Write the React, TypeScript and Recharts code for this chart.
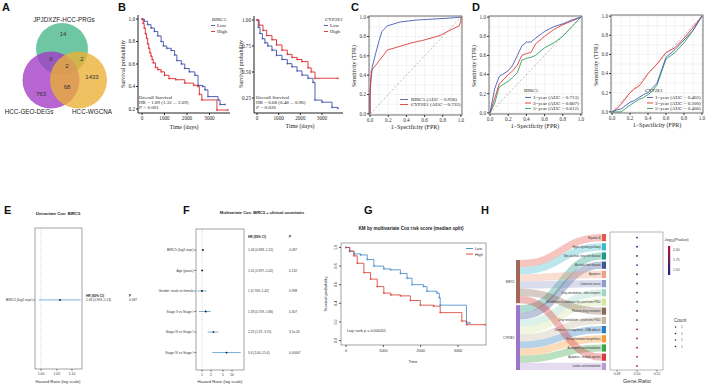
import React from 'react';
import {
  LineChart, Line, XAxis, YAxis, CartesianGrid, ReferenceLine,
  ScatterChart, Scatter, ErrorBar, Sankey,
} from 'recharts';

const SERIF = '"Liberation Serif","Times New Roman",serif';
const SANS = '"Liberation Sans",Arial,sans-serif';

// ---------------- A: Venn ----------------
const vennSetNames = ['JPJDXZF-HCC-PRGs', 'HCC-GEO-DEGs', 'HCC-WGCNA'];
const vennRegionCounts = [14, 0, 2, 2, 1433, 68, 763];

// ---------------- B: KM curves ----------------
const kmBirc5LowTime = [0, 100, 250, 400, 550, 700, 850, 950, 1100, 1300, 1450, 1550, 1750, 1900, 2100, 2350, 2490, 2700, 2800, 2930, 3380, 3470, 3690];
const kmBirc5LowSurv = [1, 0.98, 0.95, 0.92, 0.89, 0.85, 0.8, 0.76, 0.74, 0.72, 0.68, 0.63, 0.6, 0.56, 0.53, 0.5, 0.41, 0.4, 0.37, 0.31, 0.28, 0.24, 0.24];
const kmBirc5HighTime = [0, 50, 100, 150, 200, 250, 300, 350, 400, 450, 500, 600, 700, 850, 1000, 1200, 1500, 1900, 2300, 2480, 2550, 2660, 3330, 3820];
const kmBirc5HighSurv = [1, 0.96, 0.92, 0.87, 0.83, 0.78, 0.74, 0.7, 0.67, 0.64, 0.61, 0.57, 0.55, 0.53, 0.5, 0.47, 0.46, 0.43, 0.41, 0.4, 0.33, 0.28, 0.19, 0.19];
const kmCypLowTime = [0, 60, 138, 250, 369, 500, 692, 900, 1154, 1400, 1615, 1850, 2077, 2354, 2585, 2677, 3000, 3461, 3738];
const kmCypLowSurv = [1, 0.93, 0.87, 0.82, 0.78, 0.75, 0.71, 0.66, 0.62, 0.58, 0.55, 0.51, 0.47, 0.44, 0.4, 0.23, 0.21, 0.16, 0.15];
const kmCypHighTime = [0, 100, 277, 450, 692, 900, 1154, 1400, 1615, 1850, 2077, 2354, 2500, 2677, 3738];
const kmCypHighSurv = [1, 0.95, 0.9, 0.85, 0.81, 0.76, 0.71, 0.67, 0.64, 0.62, 0.6, 0.54, 0.5, 0.44, 0.44];

// ---------------- C: ROC ----------------
const rocBirc5Fpr = [0, 0, 0.007, 0.025, 0.06, 0.1, 0.13, 0.19, 0.33, 0.51, 0.69, 0.87, 1];
const rocBirc5Tpr = [0, 0.2, 0.32, 0.49, 0.62, 0.76, 0.85, 0.91, 0.95, 0.97, 0.98, 0.99, 1];
const rocCypFpr = [0, 0, 0.007, 0.014, 0.06, 0.1, 0.15, 0.19, 0.3, 0.44, 0.58, 0.77, 0.87, 0.98, 1, 1];
const rocCypTpr = [0, 0.2, 0.35, 0.45, 0.5, 0.55, 0.61, 0.66, 0.69, 0.73, 0.76, 0.81, 0.86, 0.91, 0.96, 1];

// ---------------- D: time-dependent ROC ----------------
const tdFpr = [0, 0.05, 0.1, 0.2, 0.25, 0.3, 0.35, 0.4, 0.45, 0.5, 0.6, 0.7, 0.8, 0.9, 1];
const tdBirc5Y1 = [0, 0.25, 0.38, 0.44, 0.5, 0.6, 0.7, 0.74, 0.74, 0.78, 0.85, 0.9, 0.93, 0.97, 1];
const tdBirc5Y3 = [0, 0.15, 0.3, 0.4, 0.44, 0.5, 0.6, 0.62, 0.63, 0.72, 0.8, 0.87, 0.92, 0.96, 1];
const tdBirc5Y5 = [0, 0.1, 0.27, 0.33, 0.37, 0.42, 0.55, 0.57, 0.58, 0.6, 0.68, 0.73, 0.8, 0.9, 1];
const tdCypY1 = [0, 0.02, 0.03, 0.1, 0.12, 0.15, 0.18, 0.2, 0.25, 0.3, 0.57, 0.65, 0.75, 0.85, 1];
const tdCypY3 = [0, 0.03, 0.08, 0.2, 0.24, 0.27, 0.33, 0.4, 0.45, 0.5, 0.62, 0.67, 0.77, 0.88, 1];
const tdCypY5 = [0, 0, 0, 0.07, 0.1, 0.13, 0.15, 0.18, 0.22, 0.28, 0.55, 0.62, 0.72, 0.85, 1];

// ---------------- E/F: Cox forest ----------------
const uniNames = ['BIRC5 (log2 expr)'];
const uniHR = [1.06];
const uniLo = [0.993];
const uniHi = [1.13];
const uniHRText = ['1.06 (0.993\u20131.13)'];
const uniP = ['0.087'];

const multiNames = ['BIRC5 (log2 expr)', 'Age (years)', 'Gender: male vs female', 'Stage II vs Stage I', 'Stage III vs Stage I', 'Stage IV vs Stage I'];
const multiHR = [1.07, 1.01, 1.0, 1.33, 2.4, 6.6];
const multiLo = [0.983, 0.997, 0.709, 0.79, 1.55, 2.2];
const multiHi = [1.15, 1.02, 1.42, 1.95, 3.5, 19.6];
const multiHRText = ['1.06 (0.983\u20131.15)', '1.01 (0.997\u20131.02)', '1 (0.709\u20131.42)', '1.33 (0.759\u20131.86)', '2.25 (1.37\u20133.70)', '5.6 (2.00\u201315.4)'];
const multiP = ['0.087', '0.132', '0.998', '0.307', '3.1e-05', '0.00067'];

// ---------------- G: KM by risk score ----------------
const kmRiskLowTime = [0, 100, 213, 391, 569, 747, 1013, 1191, 1458, 1636, 1769, 2080, 2169, 2436, 2500, 2524, 3227, 3320];
const kmRiskLowSurv = [1, 0.96, 0.93, 0.92, 0.87, 0.8, 0.77, 0.76, 0.72, 0.67, 0.6, 0.58, 0.53, 0.51, 0.46, 0.38, 0.19, 0.19];
const kmRiskHighTime = [0, 100, 213, 302, 480, 658, 836, 1013, 1200, 1458, 1725, 1991, 2347, 2524, 3102, 3236, 3725];
const kmRiskHighSurv = [1, 0.96, 0.91, 0.83, 0.73, 0.66, 0.58, 0.51, 0.49, 0.48, 0.43, 0.38, 0.37, 0.3, 0.21, 0.17, 0.17];

// ---------------- H: KEGG Sankey + dot plot ----------------
const genes = ['BIRC5', 'CYP2E1'];
const pathways = [
  'Hepatitis B', 'Hippo signaling pathway', 'Non-alcoholic fatty liver disease', 'Alcoholic liver disease',
  'Apoptosis', 'Colorectal cancer', 'Drug metabolism - other enzymes', 'Metabolism of xenobiotics by cytochrome P450',
  'Platinum drug resistance', 'Drug metabolism - cytochrome P450', 'Chemical carcinogenesis - DNA adducts',
  'Steroid hormone biosynthesis', 'Arachidonic acid metabolism', 'Apoptosis - multiple species', 'Linoleic acid metabolism',
];
const pathwayGene = [0, 0, 1, 1, 0, 0, 1, 1, 0, 1, 1, 1, 1, 0, 1];
const pathwayGeneRatio = [0.5, 0.5, 0.5, 0.5, 0.5, 0.5, 0.5, 0.5, 0.5, 0.5, 0.5, 0.5, 0.5, 0.5, 0.5];
const pathwayLogP = [1.55, 1.5, 1.55, 1.55, 1.6, 1.6, 1.65, 1.7, 1.75, 1.8, 1.85, 1.9, 1.95, 2.0, 2.05];
const pathwayCount = [1, 1, 1, 1, 1, 1, 1, 1, 1, 1, 1, 1, 1, 1, 1];

// ---------------- styling / layout ----------------
const geneColors = ['#a0675a', '#9c76c8'];
const pathwayColors = ['#e5584a', '#3cb9cc', '#1d9c84', '#3f5892', '#f4a07e', '#8e9ccb', '#9fd6c6', '#d4e6a0',
  '#8a6a55', '#c5b6a1', '#2a7dbd', '#f59a35', '#3ca54b', '#d83a3b', '#b79bd6'];

const R_B1 = { x0: 138, y0: 15, x1: 230, y1: 113 };
const R_B2 = { x0: 254, y0: 16, x1: 343, y1: 113 };
const R_C = { x0: 369, y0: 16, x1: 462, y1: 115 };
const R_D1 = { x0: 489, y0: 16, x1: 582, y1: 114 };
const R_D2 = { x0: 611, y0: 15, x1: 703, y1: 113 };
const R_E = { x0: 35, y0: 228, x1: 82, y1: 369 };
const R_F = { x0: 196, y0: 229, x1: 244, y1: 370 };
const R_G = { x0: 341, y0: 243, x1: 486, y1: 345 };
const R_H = { x0: 610, y0: 232, x1: 663, y1: 370 };
const SANKEY = { x: 516, y: 234, w: 90, h: 136 };

const zipTS = (t: number[], s: number[]) => t.map((v, i) => ({ t: v, s: s[i] }));
const zipXY = (x: number[], y: number[]) => x.map((v, i) => ({ x: v, y: y[i] }));

const lerp = (a: number, b: number, f: number) => Math.round(a + (b - a) * f);
const pColor = (v: number) => {
  const f = Math.max(0, Math.min(1, (v - 1.45) / 0.6));
  return `rgb(${lerp(35, 178, f)},${lerp(30, 24, f)},${lerp(140, 43, f)})`;
};

const plusDot = (color: string) => (p: any) => {
  if (p.cx == null || p.cy == null) return <g key={p.key} />;
  return (
    <path key={p.key} d={`M${p.cx - 1.1},${p.cy}h2.2M${p.cx},${p.cy - 1.1}v2.2`} stroke={color} strokeWidth={0.5} fill="none" />
  );
};

function box(r: any, L: number, T: number, R: number, B: number) {
  return {
    style: { position: 'absolute' as const, left: r.x0 - L, top: r.y0 - T },
    width: r.x1 - r.x0 + L + R,
    height: r.y1 - r.y0 + T + B,
    margin: { top: T, right: R, left: 0, bottom: 0 },
  };
}

function KMPlot({ r, series, xDomain, yDomain, xTicks, yTicks, yFmt }: any) {
  const b = box(r, 22, 4, 8, 14);
  const tick = { fontSize: 5.2, fontFamily: SERIF, fill: '#222' };
  return (
    <div style={b.style}>
      <LineChart width={b.width} height={b.height} margin={b.margin}>
        <XAxis type="number" dataKey="t" domain={xDomain} ticks={xTicks} allowDataOverflow height={14}
          tickSize={2} tickMargin={1} tick={tick} stroke="#222" interval={0} />
        <YAxis type="number" domain={yDomain} ticks={yTicks} allowDataOverflow width={22}
          tickSize={2} tickMargin={1} tick={tick} tickFormatter={yFmt} stroke="#222" interval={0} />
        {series.map((s: any) => (
          <Line key={s.name} data={s.data} dataKey="s" type="stepAfter" stroke={s.color} strokeWidth={0.9}
            dot={plusDot(s.color)} activeDot={false} isAnimationActive={false} />
        ))}
      </LineChart>
    </div>
  );
}

const grid01 = [0, 0.1, 0.2, 0.3, 0.4, 0.5, 0.6, 0.7, 0.8, 0.9, 1];
const ticks02 = [0, 0.2, 0.4, 0.6, 0.8, 1];

function ROCPlot({ r, series }: any) {
  const b = box(r, 16, 4, 6, 12);
  const tick = { fontSize: 5.2, fontFamily: SERIF, fill: '#333' };
  return (
    <div style={b.style}>
      <LineChart width={b.width} height={b.height} margin={b.margin}>
        <CartesianGrid stroke="#e6e6e6" strokeWidth={0.5} horizontalValues={grid01} verticalValues={grid01} />
        <XAxis type="number" dataKey="x" domain={[-0.012, 1.012]} ticks={ticks02} allowDataOverflow height={12}
          tickSize={2} tickMargin={1} tick={tick} axisLine={false} stroke="#333" interval={0}
          tickFormatter={(v: number) => v.toFixed(1)} />
        <YAxis type="number" domain={[-0.012, 1.012]} ticks={ticks02} allowDataOverflow width={16}
          tickSize={2} tickMargin={1} tick={tick} axisLine={false} stroke="#333" interval={0}
          tickFormatter={(v: number) => v.toFixed(1)} />
        <ReferenceLine segment={[{ x: 0, y: 0 }, { x: 1, y: 1 }]} stroke="#888" strokeDasharray="2 2" strokeWidth={0.6} />
        {series.map((s: any) => (
          <Line key={s.name} data={s.data} dataKey="y" type="linear" stroke={s.color} strokeWidth={0.9}
            dot={false} activeDot={false} isAnimationActive={false} />
        ))}
      </LineChart>
    </div>
  );
}

const makeRowTick = (rows: any[]) => (p: any) => {
  const row = rows[p.payload.value];
  return (
    <text x={p.x} y={p.y} dy={1.2} textAnchor="end" fontSize={3.3} fontFamily={SANS} fill="#333">
      {row ? row.name : ''}
    </text>
  );
};

function Forest({ r, rows, xDomain, xTicks, xFmt, yDomain, L, textDx1, textDx2, textW }: any) {
  const b = box(r, L, 0, textW, 12);
  const tick = { fontSize: 3.4, fontFamily: SANS, fill: '#333' };
  const plotRight = L + (r.x1 - r.x0);
  const RowTick = makeRowTick(rows);
  return (
    <div style={b.style}>
      <ScatterChart width={b.width} height={b.height} margin={b.margin}>
        <XAxis type="number" dataKey="hr" scale="log" domain={xDomain} ticks={xTicks} height={12}
          tickSize={1.5} tickMargin={2} tick={tick} axisLine={false} stroke="#555" interval={0}
          tickFormatter={xFmt} />
        <YAxis type="number" dataKey="row" domain={yDomain} reversed ticks={rows.map((d: any) => d.row)} width={L}
          tickSize={1.5} tickMargin={1} tick={<RowTick />} axisLine={false} stroke="#555" interval={0} />
        <ReferenceLine x={1} stroke="#aaa" strokeDasharray="1 1" strokeWidth={0.5} />
        <Scatter data={rows} isAnimationActive={false}
          shape={(p: any) => <circle cx={p.cx} cy={p.cy} r={0.9} fill="#111" />}>
          <ErrorBar dataKey="err" direction="x" width={0} stroke="#6aa8d4" strokeWidth={0.9} />
        </Scatter>
        <Scatter data={rows} isAnimationActive={false}
          shape={(p: any) => (
            <g>
              <text x={plotRight + textDx1} y={p.cy} dy={1.2} fontSize={3.2} fontFamily={SANS} fill="#333">{p.payload.hrText}</text>
              <text x={plotRight + textDx2} y={p.cy} dy={1.2} fontSize={3.2} fontFamily={SANS} fill="#333">{p.payload.p}</text>
            </g>
          )} />
      </ScatterChart>
    </div>
  );
}

function RotTick(p: any) {
  const x = p.x - 0.5;
  return (
    <text x={x} y={p.y} transform={`rotate(-90 ${x} ${p.y})`} textAnchor="middle" fontSize={3.8} fontFamily={SANS} fill="#333">
      {Number(p.payload.value).toFixed(1)}
    </text>
  );
}

function KMRisk() {
  const r = R_G;
  const b = box(r, 9, 0, 0, 13);
  const series = [
    { name: 'Low', color: '#3d85c6', data: zipTS(kmRiskLowTime, kmRiskLowSurv) },
    { name: 'High', color: '#d93a2b', data: zipTS(kmRiskHighTime, kmRiskHighSurv) },
  ];
  return (
    <div style={b.style}>
      <LineChart width={b.width} height={b.height} margin={b.margin}>
        <XAxis type="number" dataKey="t" domain={[-134, 3750]} ticks={[0, 1000, 2000, 3000]} allowDataOverflow height={13}
          tickSize={2} tickMargin={2} tick={{ fontSize: 3.8, fontFamily: SANS, fill: '#333' }} axisLine={false} stroke="#555" interval={0} />
        <YAxis type="number" domain={[-0.048, 1.048]} ticks={[0, 0.2, 0.4, 0.6, 0.8, 1]} allowDataOverflow width={9}
          tickSize={2} tickMargin={1} tick={<RotTick />} axisLine={false} stroke="#555" interval={0} />
        {series.map((s) => (
          <Line key={s.name} data={s.data} dataKey="s" type="stepAfter" stroke={s.color} strokeWidth={0.8}
            dot={plusDot(s.color)} activeDot={false} isAnimationActive={false} />
        ))}
      </LineChart>
    </div>
  );
}

const sankeyData = {
  nodes: [...genes.map((g) => ({ name: g })), ...pathways.map((p) => ({ name: p }))],
  links: pathways.map((_, i) => ({ source: pathwayGene[i], target: i + 2, value: pathwayCount[i] })),
};

function nodeColor(name: string) {
  const gi = genes.indexOf(name);
  if (gi >= 0) return geneColors[gi];
  return pathwayColors[pathways.indexOf(name)];
}

function SankeyNode(p: any) {
  const { x, y, width, height, payload } = p;
  const isGene = genes.includes(payload.name);
  return (
    <g>
      <rect x={x} y={y} width={width} height={height} fill={nodeColor(payload.name)} />
      <text x={x - 1.5} y={y + height / 2} dy={1} textAnchor="end" fontSize={isGene ? 3 : 2.6} fontFamily={SANS} fill="#333">
        {payload.name}
      </text>
    </g>
  );
}

function SankeyLink(p: any) {
  const { sourceX, sourceY, sourceControlX, targetX, targetY, targetControlX, linkWidth, payload, index } = p;
  const tname = payload && payload.target && payload.target.name ? payload.target.name : pathways[index];
  return (
    <path d={`M${sourceX},${sourceY}C${sourceControlX},${sourceY} ${targetControlX},${targetY} ${targetX},${targetY}`}
      fill="none" stroke={nodeColor(tname)} strokeWidth={linkWidth} strokeOpacity={0.35} />
  );
}

function SankeyH() {
  const ml = 16;
  return (
    <div style={{ position: 'absolute', left: SANKEY.x - ml, top: SANKEY.y }}>
      <Sankey width={SANKEY.w + ml} height={SANKEY.h} data={sankeyData} nodeWidth={4} nodePadding={2}
        margin={{ top: 0, right: 0, bottom: 0, left: ml }} iterations={32} sort={false}
        node={<SankeyNode />} link={<SankeyLink />} />
    </div>
  );
}

function DotH() {
  const r = R_H;
  const b = box(r, 0, 0, 0, 8);
  const rows = pathways.map((name, i) => ({ name, row: i, ratio: pathwayGeneRatio[i], lp: pathwayLogP[i] }));
  return (
    <div style={b.style}>
      <ScatterChart width={b.width} height={b.height} margin={b.margin}>
        <XAxis type="number" dataKey="ratio" domain={[0.473, 0.526]} ticks={[0.48, 0.5, 0.52]} height={8}
          tickSize={1.5} tickMargin={1} tick={{ fontSize: 3.4, fontFamily: SANS, fill: '#444' }} axisLine={false} stroke="#666"
          interval={0} tickFormatter={(v: number) => v.toFixed(2)} />
        <YAxis type="number" dataKey="row" domain={[-0.61, 14.44]} reversed hide />
        <Scatter data={rows} isAnimationActive={false}
          shape={(p: any) => <circle cx={p.cx} cy={p.cy} r={0.9} fill={pColor(p.payload.lp)} />} />
      </ScatterChart>
    </div>
  );
}

const VENN_LAYOUT = [
  { x: 62, y: 49, r: 26, c: '#45b688' },
  { x: 51, y: 80, r: 28.5, c: '#a33ac4' },
  { x: 78.5, y: 80, r: 28.5, c: '#eab033' },
];
const VENN_LABEL_POS = [
  { x: 63, y: 34 }, { x: 51, y: 59 }, { x: 67, y: 66 }, { x: 82, y: 59 }, { x: 92, y: 77 }, { x: 67, y: 87 }, { x: 41, y: 94 },
];
const VENN_NAME_POS = [{ x: 64, y: 20 }, { x: 29, y: 112 }, { x: 92, y: 112 }];

function Venn() {
  const circles = VENN_LAYOUT.map((c, i) => ({ x: c.x, y: c.y, idx: i }));
  const counts = vennRegionCounts.map((v, i) => ({ ...VENN_LABEL_POS[i], v }));
  const names = vennSetNames.map((n, i) => ({ ...VENN_NAME_POS[i], n }));
  return (
    <div style={{ position: 'absolute', left: 0, top: 0 }}>
      <ScatterChart width={130} height={125} margin={{ top: 0, right: 0, bottom: 0, left: 0 }}>
        <XAxis type="number" dataKey="x" domain={[0, 130]} hide />
        <YAxis type="number" dataKey="y" domain={[0, 125]} reversed hide />
        <Scatter data={circles} isAnimationActive={false}
          shape={(p: any) => <circle cx={p.cx} cy={p.cy} r={VENN_LAYOUT[p.payload.idx].r} fill={VENN_LAYOUT[p.payload.idx].c} fillOpacity={0.78} />} />
        <Scatter data={counts} isAnimationActive={false}
          shape={(p: any) => <text x={p.cx} y={p.cy} dy={2} textAnchor="middle" fontSize={6} fontFamily={SANS} fill="#333">{p.payload.v}</text>} />
        <Scatter data={names} isAnimationActive={false}
          shape={(p: any) => <text x={p.cx} y={p.cy} dy={2} textAnchor="middle" fontSize={6.3} fontFamily={SANS} fill="#222">{p.payload.n}</text>} />
      </ScatterChart>
    </div>
  );
}

const T = ({ x, y, s = 5, f = SERIF, a = 'start', w = 400, c = '#222', rot = false, children }: any) => (
  <text x={x} y={y} fontSize={s} fontFamily={f} textAnchor={a} fontWeight={w} fill={c}
    transform={rot ? `rotate(-90 ${x} ${y})` : undefined}>{children}</text>
);

const Frame = ({ r, c = '#333', w = 0.7 }: any) => (
  <rect x={r.x0} y={r.y0} width={r.x1 - r.x0} height={r.y1 - r.y0} fill="none" stroke={c} strokeWidth={w} />
);

const LegLine = ({ x, y, c, len = 5 }: any) => <line x1={x} y1={y - 1.5} x2={x + len} y2={y - 1.5} stroke={c} strokeWidth={0.9} />;

function Overlay() {
  return (
    <svg width={709} height={391} style={{ position: 'absolute', left: 0, top: 0, pointerEvents: 'none' }}>
      <defs>
        <linearGradient id="pgrad" x1="0" y1="0" x2="0" y2="1">
          <stop offset="0" stopColor={pColor(2.05)} />
          <stop offset="0.5" stopColor={pColor(1.75)} />
          <stop offset="1" stopColor={pColor(1.45)} />
        </linearGradient>
      </defs>
      {/* panel letters */}
      <T x={2} y={11} s={11} f={SANS} w={700} c="#111">A</T>
      <T x={118} y={11} s={11} f={SANS} w={700} c="#111">B</T>
      <T x={351} y={11} s={11} f={SANS} w={700} c="#111">C</T>
      <T x={472} y={11} s={11} f={SANS} w={700} c="#111">D</T>
      <T x={4} y={214} s={11} f={SANS} w={700} c="#111">E</T>
      <T x={183} y={214} s={11} f={SANS} w={700} c="#111">F</T>
      <T x={364} y={214} s={11} f={SANS} w={700} c="#111">G</T>
      <T x={481} y={214} s={11} f={SANS} w={700} c="#111">H</T>

      {/* B */}
      <T x={125} y={64} s={6} a="middle" rot>Survival probability</T>
      <T x={184} y={129} s={6} a="middle">Time (days)</T>
      <T x={212} y={21} s={5}>BIRC5</T>
      <LegLine x={211} y={27} c="#3f4fa8" len={4} />
      <T x={217} y={27} s={5}>Low</T>
      <LegLine x={211} y={33} c="#e0262b" len={4} />
      <T x={217} y={33} s={5}>High</T>
      <T x={139} y={99} s={5}>Overall Survival</T>
      <T x={139} y={104} s={5}>HR = 1.89 (1.32 ... 2.69)</T>
      <T x={139} y={109} s={5}><tspan fontStyle="italic">P</tspan> &lt; 0.001</T>

      <T x={243} y={64} s={6} a="middle" rot>Survival probability</T>
      <T x={300} y={128} s={6} a="middle">Time (days)</T>
      <T x={325} y={21} s={5}>CYP2E1</T>
      <LegLine x={324} y={27} c="#3f4fa8" len={4} />
      <T x={330} y={27} s={5}>Low</T>
      <LegLine x={324} y={33} c="#e0262b" len={4} />
      <T x={330} y={33} s={5}>High</T>
      <T x={256} y={99} s={5}>Overall Survival</T>
      <T x={256} y={104} s={5}>HR = 0.68 (0.48 ... 0.96)</T>
      <T x={256} y={109} s={5}><tspan fontStyle="italic">P</tspan> = 0.030</T>

      {/* C */}
      <Frame r={R_C} />
      <T x={356} y={66} s={6} a="middle" rot>Sensitivity (TPR)</T>
      <T x={415} y={129} s={6} a="middle">1−Specificity (FPR)</T>
      <LegLine x={400} y={101} c="#4a5bb8" len={8} />
      <T x={411} y={101} s={5}>BIRC5 (AUC = 0.936)</T>
      <LegLine x={400} y={106} c="#e23a3a" len={8} />
      <T x={411} y={106} s={5}>CYP2E1 (AUC = 0.732)</T>

      {/* D */}
      <Frame r={R_D1} />
      <T x={476} y={66} s={6} a="middle" rot>Sensitivity (TPR)</T>
      <T x={535} y={128} s={6} a="middle">1−Specificity (FPR)</T>
      <T x={524} y={92} s={5}>BIRC5</T>
      <LegLine x={525} y={99} c="#4a5bb8" len={6} />
      <T x={533} y={99} s={5}>1−year (AUC = 0.713)</T>
      <LegLine x={525} y={104.5} c="#e23a3a" len={6} />
      <T x={533} y={104.5} s={5}>3−year (AUC = 0.667)</T>
      <LegLine x={525} y={110} c="#2ca25f" len={6} />
      <T x={533} y={110} s={5}>5−year (AUC = 0.612)</T>

      <Frame r={R_D2} />
      <T x={598} y={65} s={6} a="middle" rot>Sensitivity (TPR)</T>
      <T x={657} y={127} s={6} a="middle">1−Specificity (FPR)</T>
      <T x={645} y={92} s={5}>CYP2E1</T>
      <LegLine x={647} y={99} c="#4a5bb8" len={6} />
      <T x={655} y={99} s={5}>1−year (AUC = 0.402)</T>
      <LegLine x={647} y={104.5} c="#e23a3a" len={6} />
      <T x={655} y={104.5} s={5}>3−year (AUC = 0.500)</T>
      <LegLine x={647} y={110} c="#2ca25f" len={6} />
      <T x={655} y={110} s={5}>5−year (AUC = 0.406)</T>

      {/* E */}
      <Frame r={R_E} c="#666" w={0.6} />
      <T x={58} y={215} s={4.2} f={SANS} w={700} a="middle">Univariate Cox: BIRC5</T>
      <T x={86} y={297} s={3.2} f={SANS} w={700}>HR (95% CI)</T>
      <T x={129} y={297} s={3.2} f={SANS} w={700}>P</T>
      <T x={58} y={383} s={4.2} f={SANS} a="middle" c="#333">Hazard Ratio (log scale)</T>

      {/* F */}
      <Frame r={R_F} c="#666" w={0.6} />
      <T x={262} y={214} s={4} f={SANS} w={700} a="middle">Multivariate Cox: BIRC5 + clinical covariates</T>
      <T x={248} y={238} s={3.2} f={SANS} w={700}>HR (95% CI)</T>
      <T x={289} y={238} s={3.2} f={SANS} w={700}>P</T>
      <T x={220} y={383} s={4.2} f={SANS} a="middle" c="#333">Hazard Ratio (log scale)</T>

      {/* G */}
      <Frame r={R_G} c="#666" w={0.6} />
      <T x={411} y={230} s={4.6} f={SANS} w={700} a="middle">KM by multivariate Cox risk score (median split)</T>
      <T x={327} y={294} s={4.2} f={SANS} a="middle" c="#333" rot>Survival probability</T>
      <T x={413} y={363} s={4.2} f={SANS} a="middle" c="#333">Time</T>
      <LegLine x={466} y={250} c="#3d85c6" len={7} />
      <T x={475} y={250} s={3.8} f={SANS} c="#333">Low</T>
      <LegLine x={466} y={255.5} c="#d93a2b" len={7} />
      <T x={475} y={255.5} s={3.8} f={SANS} c="#333">High</T>
      <T x={347} y={332} s={3.8} f={SANS} c="#333">Log−rank p = 0.000411</T>

      {/* H */}
      <Frame r={R_H} c="#888" w={0.6} />
      <T x={637} y={383} s={5.5} f={SANS} a="middle" c="#333">Gene.Ratio</T>
      <text x={664} y={241} fontSize={4} fontFamily={SANS} fill="#333">-log<tspan fontSize={2.8} dy={1}>10</tspan><tspan dy={-1}>(Pvalue)</tspan></text>
      <rect x={668} y={246} width={2.2} height={29} fill="url(#pgrad)" />
      <T x={673} y={251} s={3.4} f={SANS} c="#444">2.00</T>
      <T x={673} y={261} s={3.4} f={SANS} c="#444">1.75</T>
      <T x={673} y={271} s={3.4} f={SANS} c="#444">1.50</T>
      <T x={674} y={322} s={4.6} f={SANS} c="#333">Count</T>
      {[328, 334.5, 341, 347.5].map((y) => (
        <g key={y}>
          <circle cx={675.5} cy={y - 1} r={0.8} fill="#333" />
          <T x={681} y={y} s={3.2} f={SANS} c="#444">1</T>
        </g>
      ))}
    </svg>
  );
}

export default function App() {
  const b1 = [
    { name: 'Low', color: '#3f4fa8', data: zipTS(kmBirc5LowTime, kmBirc5LowSurv) },
    { name: 'High', color: '#e0262b', data: zipTS(kmBirc5HighTime, kmBirc5HighSurv) },
  ];
  const b2 = [
    { name: 'Low', color: '#3f4fa8', data: zipTS(kmCypLowTime, kmCypLowSurv) },
    { name: 'High', color: '#e0262b', data: zipTS(kmCypHighTime, kmCypHighSurv) },
  ];
  const c = [
    { name: 'BIRC5', color: '#4a5bb8', data: zipXY(rocBirc5Fpr, rocBirc5Tpr) },
    { name: 'CYP2E1', color: '#e23a3a', data: zipXY(rocCypFpr, rocCypTpr) },
  ];
  const d1 = [
    { name: 'y5', color: '#2ca25f', data: zipXY(tdFpr, tdBirc5Y5) },
    { name: 'y3', color: '#e23a3a', data: zipXY(tdFpr, tdBirc5Y3) },
    { name: 'y1', color: '#4a5bb8', data: zipXY(tdFpr, tdBirc5Y1) },
  ];
  const d2 = [
    { name: 'y5', color: '#2ca25f', data: zipXY(tdFpr, tdCypY5) },
    { name: 'y3', color: '#e23a3a', data: zipXY(tdFpr, tdCypY3) },
    { name: 'y1', color: '#4a5bb8', data: zipXY(tdFpr, tdCypY1) },
  ];
  const uniRows = uniNames.map((n, i) => ({ name: n, row: i, hr: uniHR[i], err: [uniHR[i] - uniLo[i], uniHi[i] - uniHR[i]], hrText: uniHRText[i], p: uniP[i] }));
  const multiRows = multiNames.map((n, i) => ({ name: n, row: i, hr: multiHR[i], err: [multiHR[i] - multiLo[i], multiHi[i] - multiHR[i]], hrText: multiHRText[i], p: multiP[i] }));
  return (
    <div style={{ position: 'absolute', left: 0, top: 0, width: 709, height: 391, background: '#fff', overflow: 'hidden', fontFamily: SANS }}>
      <Venn />
      <KMPlot r={R_B1} series={b1} xDomain={[-178, 3911]} yDomain={[0.164, 1.036]} xTicks={[0, 1000, 2000, 3000]}
        yTicks={[0.2, 0.4, 0.6, 0.8, 1.0]} yFmt={(v: number) => v.toFixed(1)} />
      <KMPlot r={R_B2} series={b2} xDomain={[-138, 3969]} yDomain={[0.106, 1.038]} xTicks={[0, 1000, 2000, 3000]}
        yTicks={[0.25, 0.5, 0.75, 1.0]} yFmt={(v: number) => v.toFixed(2)} />
      <ROCPlot r={R_C} series={c} />
      <ROCPlot r={R_D1} series={d1} />
      <ROCPlot r={R_D2} series={d2} />
      <Forest r={R_E} rows={uniRows} xDomain={[0.9817, 1.1344]} xTicks={[1.0, 1.05, 1.1]} xFmt={(v: number) => v.toFixed(2)}
        yDomain={[-3.51, 3.37]} L={35} textDx1={4} textDx2={47} textW={60} />
      <Forest r={R_F} rows={multiRows} xDomain={[0.631, 25.1]} xTicks={[1, 2, 5, 10]} xFmt={(v: number) => String(v)}
        yDomain={[-1.02, 5.85]} L={50} textDx1={4} textDx2={45} textW={70} />
      <KMRisk />
      <SankeyH />
      <DotH />
      <Overlay />
    </div>
  );
}
